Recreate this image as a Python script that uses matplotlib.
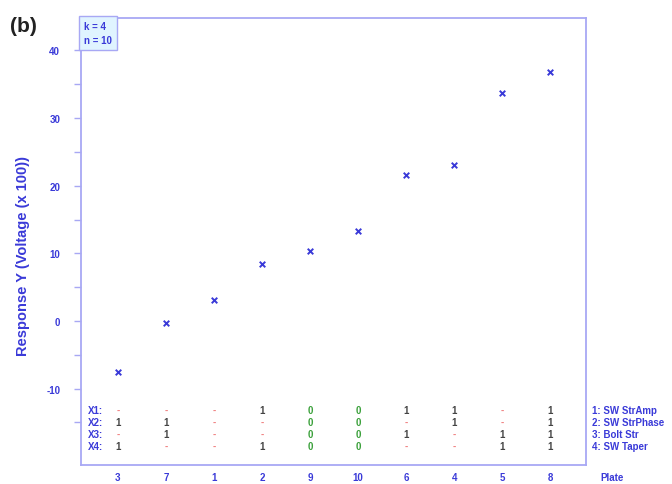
import numpy as np
import matplotlib.pyplot as plt
from matplotlib.ticker import FixedLocator

plt.rcParams['font.family'] = ['Liberation Sans', 'DejaVu Sans']
plt.rcParams['axes.unicode_minus'] = False

plates = ['3', '7', '1', '2', '9', '10', '6', '4', '5', '8']
response = [-7.5, -0.3, 3.1, 8.4, 10.4, 13.3, 21.6, 23.1, 33.7, 36.8]

x1 = ['-', '-', '-', '1', '0', '0', '1', '1', '-', '1']
x2 = ['1', '1', '-', '-', '0', '0', '-', '1', '-', '1']
x3 = ['-', '1', '-', '-', '0', '0', '1', '-', '1', '1']
x4 = ['1', '-', '-', '1', '0', '0', '-', '-', '1', '1']
factor_rows = [x1, x2, x3, x4]
factor_names = ['X1:', 'X2:', 'X3:', 'X4:']
factor_desc = ['1: SW StrAmp', '2: SW StrPhase', '3: Bolt Str', '4: SW Taper']
row_y = [-13.2, -14.9, -16.7, -18.5]

blue = '#3a3ad8'
spine_c = '#a8a8f4'
level_colors = {'-': '#f08080', '1': '#444444', '0': '#3aa03a'}

fig = plt.figure(figsize=(6.72, 4.85), dpi=100)
ax = fig.add_axes([0.1205, 0.039, 0.752, 0.922])

xs = np.arange(len(plates))
ax.scatter(xs, response, marker='x', s=16, color=blue, linewidths=1.4)

# coded factor levels under each run
for row, yv in zip(factor_rows, row_y):
    for xi, lev in zip(xs, row):
        ax.text(xi, yv, lev, color=level_colors[lev], fontsize=7,
                fontweight='bold', ha='center', va='center')
for name, yv in zip(factor_names, row_y):
    ax.text(-0.63, yv, name, color=blue, fontsize=7, fontweight='bold',
            ha='left', va='center')
for desc, yv in zip(factor_desc, row_y):
    ax.text(1.012, yv, desc, color=blue, fontsize=7, fontweight='bold',
            ha='left', va='center', transform=ax.get_yaxis_transform())

# run labels along the bottom
for xi, p in zip(xs, plates):
    ax.text(xi, -0.026, p, color=blue, fontsize=7, fontweight='bold',
            ha='center', va='center', transform=ax.get_xaxis_transform())
ax.text(1.028, -0.026, 'Plate', color=blue, fontsize=7, fontweight='bold',
        ha='left', va='center', transform=ax.transAxes)

ax.set_xlim(-0.77, 9.75)
ax.set_ylim(-21.3, 44.8)
ax.set_xticks([])
ax.yaxis.set_major_locator(FixedLocator([-10, 0, 10, 20, 30, 40]))
ax.yaxis.set_minor_locator(FixedLocator([-15, -5, 5, 15, 25, 35]))
ax.tick_params(axis='y', which='both', colors=spine_c, length=5, width=1,
               labelcolor=blue, labelsize=7, pad=10)
for lab in ax.get_yticklabels():
    lab.set_fontweight('bold')
for s in ax.spines.values():
    s.set_color(spine_c)
    s.set_linewidth(1.3)

ax.set_ylabel('Response Y (Voltage (x 100))', color=blue, fontsize=10.5,
              fontweight='bold')
ax.yaxis.set_label_coords(-0.1, 0.47)

ax.text(0.006, 0.993, 'k = 4\nn = 10', transform=ax.transAxes, color=blue,
        fontsize=7, fontweight='bold', ha='left', va='top', linespacing=1.5,
        bbox=dict(boxstyle='square,pad=0.5', fc='#e0f4ff', ec=spine_c, lw=1))

fig.text(0.015, 0.945, '(b)', fontsize=15, fontweight='bold', color='#222222',
         ha='left', va='center')

fig.savefig('out.png', dpi=100)
